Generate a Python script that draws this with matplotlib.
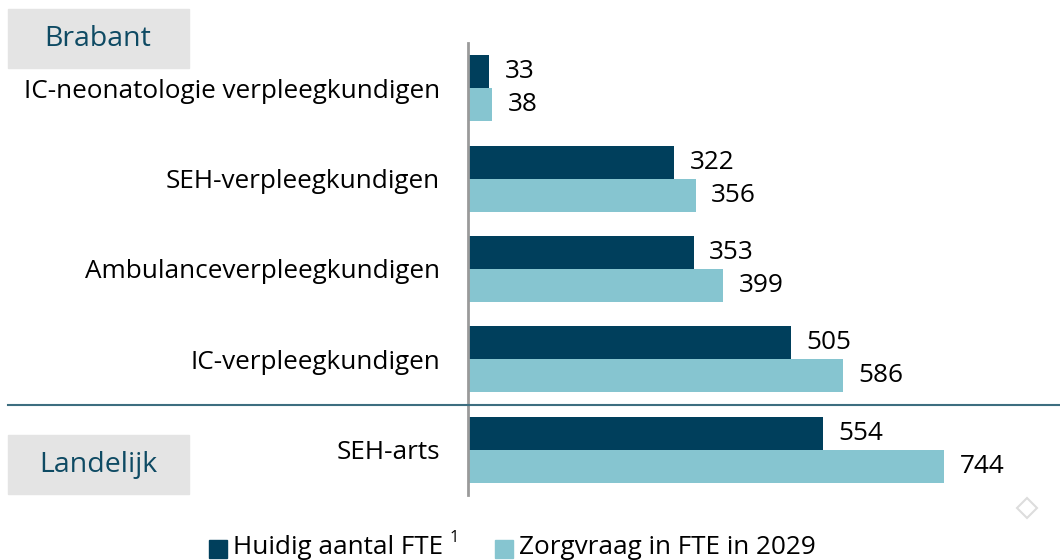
import matplotlib.pyplot as plt
from matplotlib.patches import Rectangle

plt.rcParams['font.family'] = ['Open Sans', 'DejaVu Sans']

categories = ['IC-neonatologie verpleegkundigen', 'SEH-verpleegkundigen',
              'Ambulanceverpleegkundigen', 'IC-verpleegkundigen', 'SEH-arts']
huidig = [33, 322, 353, 505, 554]
zorgvraag = [38, 356, 399, 586, 744]
series_names = ['Huidig aantal FTE', 'Zorgvraag in FTE in 2029']
regions = ['Brabant', 'Landelijk']

dark = '#003f5c'
light = '#86c5d0'
teal_text = '#0e4a63'
W, H = 1060, 560
fs = 18.8

fig = plt.figure(figsize=(10.6, 5.6), dpi=100)
ax = fig.add_axes([468/W, 65/H, 592/W, 452/H])

h = 0.365
ys = list(range(len(categories)))
ax.barh([y - h/2 for y in ys], huidig, height=h, color=dark)
ax.barh([y + h/2 for y in ys], zorgvraag, height=h, color=light)

for y, a, b in zip(ys, huidig, zorgvraag):
    ax.text(a + 24, y - h/2, str(a), va='center', ha='left', fontsize=fs)
    ax.text(b + 24, y + h/2, str(b), va='center', ha='left', fontsize=fs)

ax.set_xlim(0, 925)
ax.set_ylim(4.5, -0.5)
ax.set_xticks([])
ax.set_yticks(ys)
ax.set_yticklabels(categories, fontsize=fs)
ax.tick_params(axis='y', length=0, pad=20)
for s in ['top', 'right', 'bottom']:
    ax.spines[s].set_visible(False)
ax.spines['left'].set_color('#9a9a9a')
ax.spines['left'].set_linewidth(2)

# separator between Brabant and Landelijk
sep_y = 1 - 405/H
fig.add_artist(plt.Line2D([8/W, 1.0], [sep_y, sep_y], color='#3d6e80', lw=1.5))

# region boxes
for name, top in zip(regions, [9, 435]):
    fig.add_artist(Rectangle((8/W, 1 - (top + 59)/H), 181/W, 59/H,
                             color='#e4e4e4', transform=fig.transFigure))
    fig.text(98/W, 1 - (top + 30)/H, name, ha='center', va='center',
             fontsize=20.5, color=teal_text)

# legend along the bottom edge
base = 1 - 554/H
fig.add_artist(Rectangle((209/W, 1 - 558/H), 18/W, 18/H,
                         color=dark, transform=fig.transFigure))
t1 = fig.text(233/W, base, series_names[0], ha='left', va='baseline', fontsize=fs)
fig.canvas.draw()
x_end = t1.get_window_extent().x1
fig.text((x_end + 6)/W, 1 - 542/H, '1', ha='left', va='baseline', fontsize=12)
fig.add_artist(Rectangle((495/W, 1 - 558/H), 18/W, 18/H,
                         color=light, transform=fig.transFigure))
fig.text(519/W, base, series_names[1], ha='left', va='baseline', fontsize=fs)

# small diamond mark
fig.add_artist(plt.Line2D([1027/W], [1 - 508/H], marker='D', markersize=10,
                          markerfacecolor='white', markeredgecolor='#dddddd',
                          markeredgewidth=1.5, linestyle='none'))

fig.savefig('out.png', dpi=100)
